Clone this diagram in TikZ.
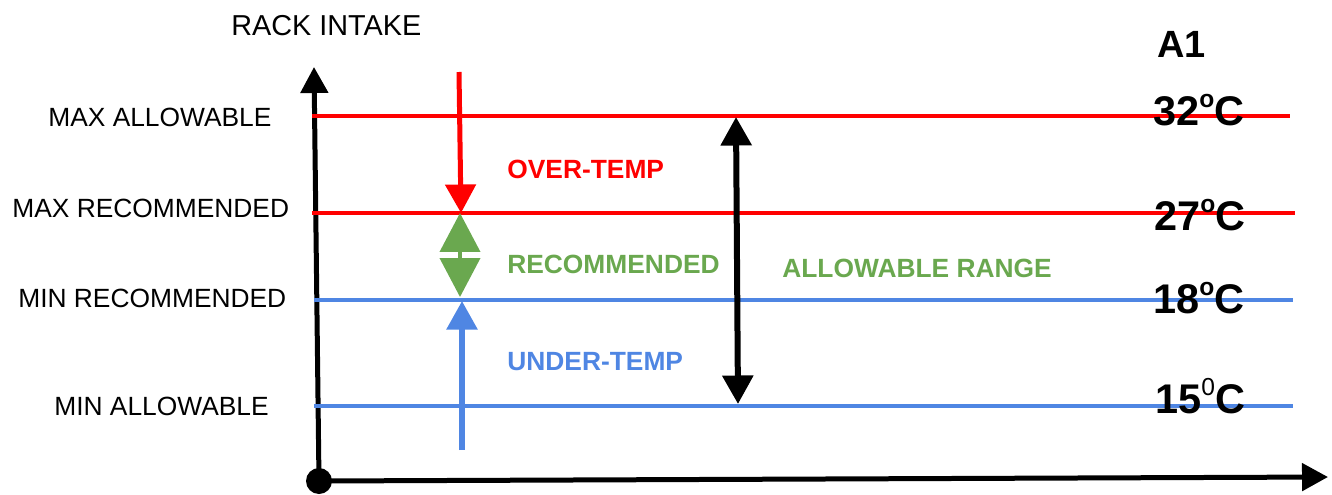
\documentclass[tikz,border=0pt]{standalone}
\usepackage{fontspec}
\setmainfont{Liberation Sans}
\usetikzlibrary{arrows.meta,positioning}
\definecolor{overred}{RGB}{255,0,0}
\definecolor{underblue}{RGB}{79,134,227}
\definecolor{recgreen}{RGB}{106,168,79}
% small raised degree mark
\newcommand{\degmark}[1]{\raisebox{0.42em}{\fontsize{14pt}{14pt}\selectfont #1}}

\begin{document}
\begin{tikzpicture}[x=0.02cm,y=-0.02cm,
    bigtip/.tip={Triangle[length=0.57cm,width=0.6cm]},
    fattip/.tip={Triangle[length=0.78cm,width=0.8cm]},
    axis/.style={line width=0.1cm,-{Triangle[length=0.52cm,width=0.54cm]}},
    level/.style={line width=0.075cm},
    lefttext/.style={anchor=base west,inner sep=0pt,font=\fontsize{15pt}{15pt}\selectfont},
    zonetext/.style={anchor=base west,inner sep=0pt,font=\fontsize{15pt}{15pt}\selectfont\bfseries},
    temptext/.style={anchor=base west,inner sep=0pt,font=\fontsize{23.6pt}{24pt}\selectfont\bfseries}]
\useasboundingbox (0,0) rectangle (1332,494);

% axes
\coordinate (origin) at (319,481);
\coordinate (ytop) at (314,67);
\coordinate (xend) at (1328,477);
\draw[axis] (origin) -- (ytop);
\draw[axis] (origin) -- (xend);
\fill (origin) circle[radius=0.26cm];

% temperature levels
\coordinate (maxallow-l) at (312,116);  \coordinate (maxallow-r) at (1290,116);
\coordinate (maxrec-l) at (312,213);    \coordinate (maxrec-r) at (1295,213);
\coordinate (minrec-l) at (314,300);    \coordinate (minrec-r) at (1293,300);
\coordinate (minallow-l) at (314,406);  \coordinate (minallow-r) at (1293,406);
\draw[level,overred] (maxallow-l) -- (maxallow-r);
\draw[level,overred] (maxrec-l) -- (maxrec-r);
\draw[level,underblue] (minrec-l) -- (minrec-r);
\draw[level,underblue] (minallow-l) -- (minallow-r);

% zone arrows
\coordinate (over-top) at (459,72);
\coordinate (over-tip) at (461,213);
\coordinate (rec-top) at (460,213);
\coordinate (rec-bot) at (460,297);
\coordinate (under-bot) at (462,450);
\coordinate (under-tip) at (462,301);
\coordinate (range-top) at (736,117);
\coordinate (range-bot) at (738,404);
\draw[overred,line width=0.1cm,-bigtip] (over-top) -- (over-tip);
\draw[recgreen,line width=0.08cm,fattip-fattip] (rec-top) -- (rec-bot);
\draw[underblue,line width=0.11cm,-bigtip] (under-bot) -- (under-tip);
\draw[black,line width=0.12cm,bigtip-bigtip] (range-top) -- (range-bot);

% left labels
\node[anchor=base west,inner sep=0pt,font=\fontsize{16.4pt}{16pt}\selectfont] (intake) at (231,35) {RACK INTAKE};
\node[lefttext] (maxallow) at (48,126) {MAX ALLOWABLE};
\node[lefttext] (maxrec) at (12,217) {MAX RECOMMENDED};
\node[lefttext] (minrec) at (18,307) {MIN RECOMMENDED};
\node[lefttext] (minallow) at (54,415) {MIN ALLOWABLE};

% zone names
\node[zonetext,overred] (over) at (507,178) {OVER-TEMP};
\node[zonetext,recgreen] (rec) at (507,273) {RECOMMENDED};
\node[zonetext,underblue] (under) at (507,370) {UNDER-TEMP};
\node[zonetext,recgreen] (range) at (782,277) {ALLOWABLE RANGE};

% class and limits
\node[anchor=base west,inner sep=0pt,font=\fontsize{21.6pt}{22pt}\selectfont\bfseries] (class) at (1157,57) {A1};
\node[temptext] (t32) at (1153,125) {32\degmark{o}C};
\node[temptext] (t27) at (1154,230) {27\degmark{o}C};
\node[temptext] (t18) at (1153,313) {18\degmark{o}C};
\node[temptext] (t15) at (1155,413) {15\degmark{\mdseries 0}C};
\end{tikzpicture}
\end{document}
